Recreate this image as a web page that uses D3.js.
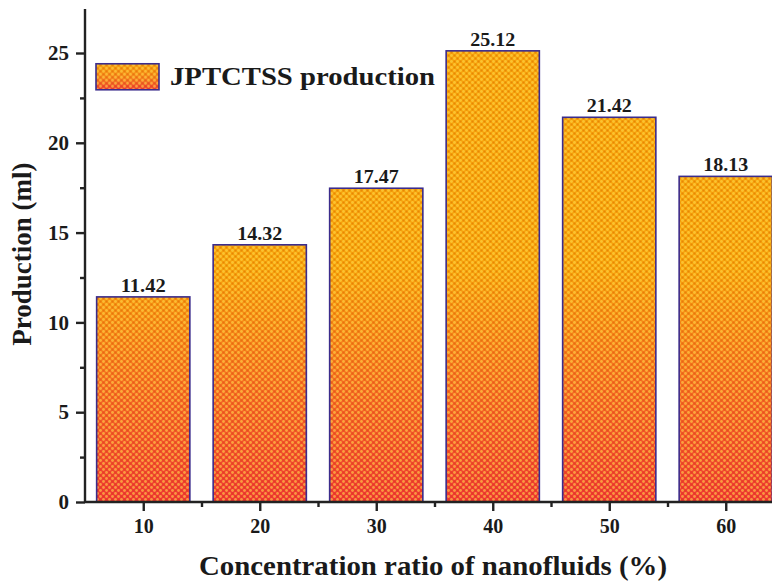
<!DOCTYPE html>
<html>
<head>
<meta charset="utf-8">
<script src="https://cdn.jsdelivr.net/npm/d3@7"></script>
<style>
  body { margin: 0; background: #fff; }
</style>
</head>
<body>
<div id="chart"></div>
<script>
// concentration ratio (%) and production (ml)
const ratios = [10, 20, 30, 40, 50, 60];
const production = [11.42, 14.32, 17.47, 25.12, 21.42, 18.13];
const yTicks = [0, 5, 10, 15, 20, 25];
const seriesName = "JPTCTSS production";

const width = 772, height = 585;
const serif = "'Liberation Serif', 'Times New Roman', serif";

const svg = d3.select("#chart").append("svg")
    .attr("width", width)
    .attr("height", height);

const x = d3.scaleLinear().domain([5, 65]).range([85, 784]);
const y = d3.scaleLinear().domain([0, 27.45]).range([502, 9]);

const defs = svg.append("defs");

// bars share one gradient, orange up top, red at the base
const grad = defs.append("linearGradient")
    .attr("id", "barGrad")
    .attr("gradientUnits", "userSpaceOnUse")
    .attr("x1", 0).attr("x2", 0)
    .attr("y1", y(0)).attr("y2", y(13));
grad.append("stop").attr("offset", "0%").attr("stop-color", "#f03434");
grad.append("stop").attr("offset", "50%").attr("stop-color", "#f66a22");
grad.append("stop").attr("offset", "100%").attr("stop-color", "#f7a20a");

const legGrad = defs.append("linearGradient")
    .attr("id", "legGrad")
    .attr("x1", 0).attr("x2", 0).attr("y1", 0).attr("y2", 1);
legGrad.append("stop").attr("offset", "0%").attr("stop-color", "#f7a20a");
legGrad.append("stop").attr("offset", "55%").attr("stop-color", "#f6801c");
legGrad.append("stop").attr("offset", "100%").attr("stop-color", "#f03434");

// little dot texture on top of the gradient
const pat = defs.append("pattern")
    .attr("id", "dots")
    .attr("patternUnits", "userSpaceOnUse")
    .attr("width", 6).attr("height", 6);
pat.append("circle").attr("cx", 1.5).attr("cy", 1.5).attr("r", 1.4)
    .attr("fill", "#ffd84a").attr("fill-opacity", 0.6);
pat.append("circle").attr("cx", 4.5).attr("cy", 4.5).attr("r", 1.4)
    .attr("fill", "#ffd84a").attr("fill-opacity", 0.6);
pat.append("circle").attr("cx", 4.5).attr("cy", 1.5).attr("r", 1)
    .attr("fill", "#c04800").attr("fill-opacity", 0.3);
pat.append("circle").attr("cx", 1.5).attr("cy", 4.5).attr("r", 1)
    .attr("fill", "#c04800").attr("fill-opacity", 0.3);

const barW = 8;

const bars = svg.append("g").selectAll("g")
    .data(ratios)
    .join("g");

bars.append("rect")
    .attr("x", d => x(d - barW / 2))
    .attr("y", (d, i) => y(production[i]))
    .attr("width", x(barW) - x(0))
    .attr("height", (d, i) => y(0) - y(production[i]))
    .attr("fill", "url(#barGrad)");

bars.append("rect")
    .attr("x", d => x(d - barW / 2))
    .attr("y", (d, i) => y(production[i]))
    .attr("width", x(barW) - x(0))
    .attr("height", (d, i) => y(0) - y(production[i]))
    .attr("fill", "url(#dots)")
    .attr("stroke", "#3b2c8c")
    .attr("stroke-width", 1.6);

bars.append("text")
    .attr("x", d => x(d))
    .attr("y", (d, i) => y(production[i]) - 5)
    .attr("text-anchor", "middle")
    .attr("textLength", 45)
    .attr("lengthAdjust", "spacingAndGlyphs")
    .style("font-size", "18px")
    .text((d, i) => production[i].toFixed(2));

// axes
const xAxis = svg.append("g")
    .attr("transform", `translate(0,${y(0)})`)
    .call(d3.axisBottom(x).tickValues(ratios).tickSize(9).tickPadding(8));
xAxis.selectAll("text").style("font-size", "20px");

svg.append("g")
    .attr("transform", `translate(0,${y(0)})`)
    .call(d3.axisBottom(x).tickValues([15, 25, 35, 45, 55, 65]).tickSize(5).tickFormat(""))
    .select(".domain").remove();

const yAxis = svg.append("g")
    .attr("transform", `translate(${x(5)},0)`)
    .call(d3.axisLeft(y).tickValues(yTicks).tickSize(9).tickPadding(7));
yAxis.selectAll("text").style("font-size", "21px");

svg.append("g")
    .attr("transform", `translate(${x(5)},0)`)
    .call(d3.axisLeft(y).tickValues([2.5, 7.5, 12.5, 17.5, 22.5]).tickSize(5).tickFormat(""))
    .select(".domain").remove();

svg.selectAll(".domain, .tick line")
    .attr("stroke", "#222")
    .attr("stroke-width", 2.4);
// plain axis lines without end caps
xAxis.select(".domain").attr("d", `M${x(5)},0H${x(65)}`);
yAxis.select(".domain").attr("d", `M0,${y(0)}V${y(27.45)}`);

// axis titles
svg.append("text")
    .attr("x", 433)
    .attr("y", 575)
    .attr("text-anchor", "middle")
    .attr("textLength", 468)
    .attr("lengthAdjust", "spacingAndGlyphs")
    .style("font-size", "27px")
    .text("Concentration ratio of nanofluids (%)");

svg.append("text")
    .attr("transform", `translate(31,${y(13.8)}) rotate(-90)`)
    .attr("text-anchor", "middle")
    .style("font-size", "27px")
    .text("Production (ml)");

// legend
const leg = svg.append("g").attr("transform", `translate(96,${y(24.4)})`);
leg.append("rect")
    .attr("width", 63).attr("height", 26)
    .attr("fill", "url(#legGrad)");
leg.append("rect")
    .attr("width", 63).attr("height", 26)
    .attr("fill", "url(#dots)")
    .attr("stroke", "#3b2c8c")
    .attr("stroke-width", 1.6);
leg.append("text")
    .attr("x", 74).attr("y", 21)
    .attr("textLength", 265)
    .attr("lengthAdjust", "spacingAndGlyphs")
    .style("font-size", "25px")
    .text(seriesName);

svg.selectAll("text")
    .attr("font-family", null)
    .style("font-family", serif)
    .style("font-weight", "bold")
    .style("fill", "#1a1a1a");
</script>
</body>
</html>
